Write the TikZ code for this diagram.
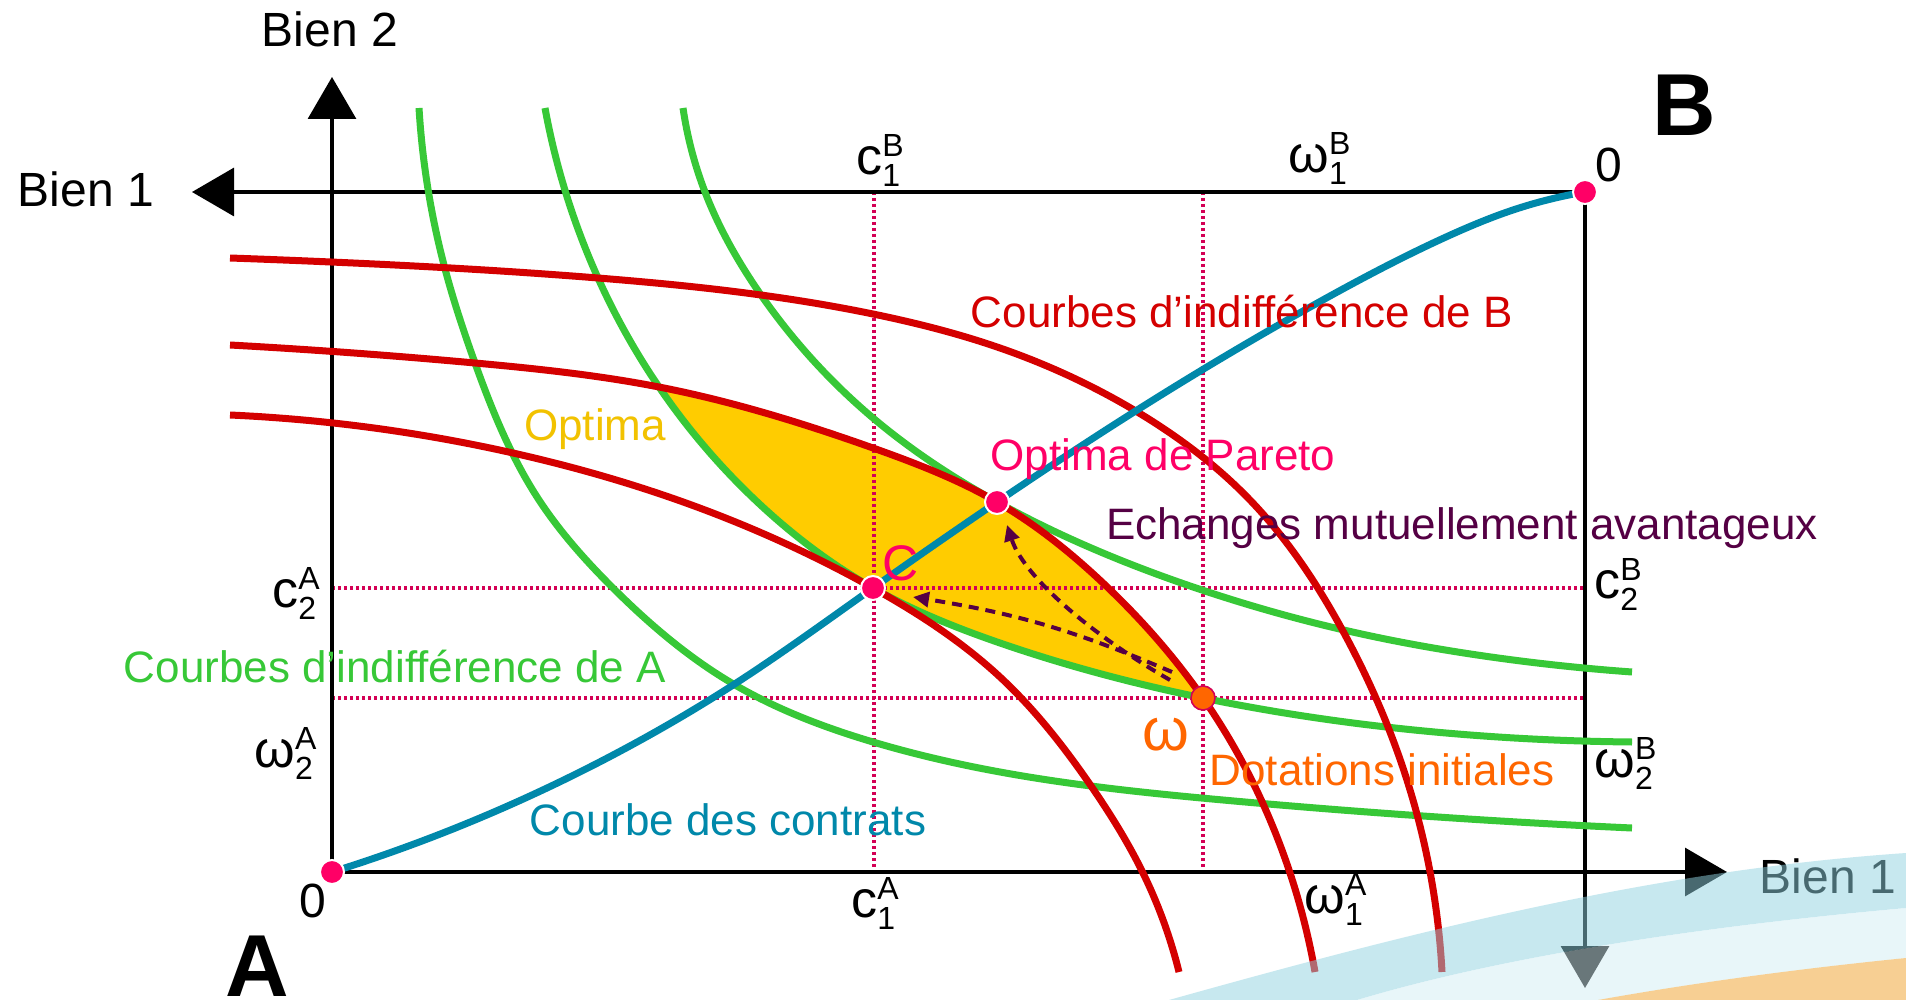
\documentclass[tikz,border=0pt]{standalone}
\usepackage{fontspec}
\setmainfont{Liberation Sans}
\usetikzlibrary{arrows.meta,hobby}
\definecolor{redc}{HTML}{D40000}
\definecolor{greenc}{HTML}{37C837}
\definecolor{bluec}{HTML}{0088AA}
\definecolor{pinkc}{HTML}{FF0066}
\definecolor{dotc}{HTML}{D40055}
\definecolor{yellc}{HTML}{FFCC00}
\definecolor{optc}{HTML}{F2C200}
\definecolor{orc}{HTML}{FF6600}
\definecolor{purc}{HTML}{550044}
\definecolor{bandA}{HTML}{90D3E1}
\definecolor{bandB}{HTML}{D3EEF5}
\definecolor{bandC}{HTML}{F1A129}

\def\Rone{(230,258) .. (331,262) .. (598,278) .. (761,295) .. (873,314) .. (1000,348) .. (1134,410) .. (1250,500) .. (1344,633) .. (1413,800) .. (1442,972)}
\def\Rtwo{(230,345) .. (475,363) .. (659,387) .. (873,448) .. (997,502) .. (1103,583) .. (1203,698) .. (1290,873) .. (1315,972)}
\def\Rthree{(230,415) .. (513,453) .. (705,510) .. (873,588) .. (1000,677) .. (1089,783) .. (1143,873) .. (1179,972)}
\def\Gone{(419,108) .. (444,265) .. (475,363) .. (539,500) .. (613,588) .. (730,682) .. (873,742) .. (1000,772) .. (1223,800) .. (1632,828)}
\def\Gtwo{(545,108) .. (598,278) .. (659,387) .. (766,510) .. (873,588) .. (1000,643) .. (1203,698) .. (1446,733) .. (1632,742)}
\def\Gthree{(683,108) .. (705,192) .. (761,295) .. (873,418) .. (997,502) .. (1196,588) .. (1357,633) .. (1491,657) .. (1632,672)}
\def\Bcc{(332,872) .. (475,820) .. (628,747) .. (730,687) .. (873,588) .. (997,502) .. (1134,412) .. (1312,306) .. (1446,237) .. (1513,210) .. (1585,192)}

\newcommand\smoothcurve[2]{\edef\tmpcurve{\noexpand\draw[use Hobby shortcut,#1] #2;}\tmpcurve}
\newcommand\supsub[3]{#1\rlap{\raisebox{9pt}{\fontsize{16}{16}\selectfont #3}}\raisebox{-6pt}{\fontsize{16}{16}\selectfont #2}}

\begin{document}
\begin{tikzpicture}[x=0.5pt,y=-0.5pt,
  curve/.style={line width=3.5pt},
  axis/.style={line width=1.6pt,black},
  axtip/.style={-{Triangle[length=21pt,width=24pt]}},
  guide/.style={dotc,line width=1.8pt,dash pattern=on 1.6pt off 1.4pt},
  pt/.style={circle,fill=pinkc,draw=white,line width=1pt,minimum size=12pt,inner sep=0pt},
  ptw/.style={circle,fill=orc,draw=dotc,line width=0.8pt,minimum size=12pt,inner sep=0pt},
  dasharr/.style={purc,line width=2pt,dash pattern=on 5pt off 3.5pt,-{Triangle[length=8pt,width=7.5pt]}},
  lbl/.style={inner sep=0pt,font=\fontsize{22}{26}\selectfont},
  axl/.style={inner sep=0pt,anchor=base,font=\fontsize{24}{28}\selectfont},
  sym/.style={inner sep=0pt,anchor=base west,font=\fontsize{26}{30}\selectfont},
  big/.style={inner sep=0pt,anchor=base,font=\fontsize{44}{48}\selectfont\bfseries}]
\fill[white] (0,0) rectangle (1906,1000);
\useasboundingbox (0,0) rectangle (1906,1000);

% lens of mutually advantageous trades
\begin{scope}
\edef\tmpclip{\noexpand\clip[use Hobby shortcut] \Rtwo -- (1315,1000) -- (100,1000) -- (100,300) -- cycle;}\tmpclip
\edef\tmpfill{\noexpand\fill[use Hobby shortcut,yellc] \Gtwo -- (1700,742) -- (1700,50) -- (545,50) -- cycle;}\tmpfill
\end{scope}

% guides
\draw[guide] (874,192) -- (874,872);
\draw[guide] (1203,192) -- (1203,872);
\draw[guide] (332,588) -- (1585,588);
\draw[guide] (332,698) -- (1585,698);

% axes
\coordinate (oA) at (332,872);
\coordinate (oB) at (1585,192);
\coordinate (up) at (332,77);
\coordinate (left) at (192,192);
\coordinate (right) at (1727,872);
\coordinate (down) at (1585,988);
\draw[axis,axtip] (oA) -- (up);
\draw[axis,axtip] (oA) -- (right);
\draw[axis,axtip] (oB) -- (left);
\draw[axis,axtip] (oB) -- (down);

% indifference curves and contract curve
\smoothcurve{greenc,curve}{\Gone}
\smoothcurve{greenc,curve}{\Gtwo}
\smoothcurve{greenc,curve}{\Gthree}
\smoothcurve{redc,curve}{\Rone}
\smoothcurve{redc,curve}{\Rtwo}
\smoothcurve{redc,curve}{\Rthree}
\smoothcurve{bluec,curve}{\Bcc}

% trade arrows
\coordinate (s1) at (1172,672);
\coordinate (e1) at (913,597);
\coordinate (s2) at (1170,680);
\coordinate (e2) at (1007,525);
\draw[dasharr] (s1) to[bend right=7] (e1);
\draw[dasharr] (s2) .. controls (1100,640) and (1025,580) .. (e2);

% points
\node[pt] (dA) at (oA) {};
\node[pt] (dB) at (oB) {};
\node[pt] (dC) at (873,588) {};
\node[pt] (dP) at (997,502) {};
\node[ptw] (dW) at (1203,698) {};

% axis labels
\node[axl] (bien2) at (330,47) {Bien 2};
\node[axl] (bien1l) at (86,207) {Bien 1};
\node[axl] (bien1r) at (1828,893) {Bien 1};
\node[axl] (zA) at (313,917) {0};
\node[axl] (zB) at (1609,182) {0};
\node[big] (bigA) at (257,996) {A};
\node[big] (bigB) at (1684,136) {B};

% coordinate labels
\node[sym] (c1B) at (856,175) {\supsub{c}{1}{B}};
\node[sym] (w1B) at (1288,173) {\supsub{ω}{1}{B}};
\node[sym] (c2A) at (272,607) {\supsub{c}{2}{A}};
\node[sym] (w2A) at (254,767) {\supsub{ω}{2}{A}};
\node[sym] (c1A) at (851,917) {\supsub{c}{1}{A}};
\node[sym] (w1A) at (1304,913) {\supsub{ω}{1}{A}};
\node[sym] (c2B) at (1594,598) {\supsub{c}{2}{B}};
\node[sym] (w2B) at (1594,777) {\supsub{ω}{2}{B}};

% text labels
\node[lbl,anchor=base,text=optc] (optima) at (595,440) {Optima};
\node[lbl,anchor=base,text=redc] (cibB) at (1242,328) {Courbes d'indifférence de B};
\node[lbl,anchor=base,text=pinkc] (pareto) at (1163,470) {Optima de Pareto};
\node[lbl,anchor=base,text=purc] (echg) at (1462,539) {Echanges mutuellement avantageux};
\node[lbl,anchor=base,text=pinkc,font=\fontsize{25}{28}\selectfont] (lC) at (901,580) {C};
\node[lbl,anchor=base,text=greenc] (cibA) at (395,682) {Courbes d'indifférence de A};
\node[lbl,anchor=base,text=orc,font=\fontsize{30}{32}\selectfont] (lw) at (1166,750) {ω};
\node[lbl,anchor=base,text=orc] (dotin) at (1382,785) {Dotations initiales};
\node[lbl,anchor=base,text=bluec] (contr) at (728,835) {Courbe des contrats};

% background band (bottom right)
\fill[bandA,opacity=0.5] (1169,1000) .. controls (1419,930) and (1656,870) .. (1906,853) -- (1906,908) .. controls (1706,926) and (1507,955) .. (1357,1000) -- cycle;
\fill[bandB,opacity=0.5] (1357,1000) .. controls (1507,955) and (1706,926) .. (1906,908) -- (1906,958) .. controls (1806,968) and (1698,982) .. (1598,1000) -- cycle;
\fill[bandC,opacity=0.5] (1598,1000) .. controls (1698,982) and (1806,968) .. (1906,958) -- (1906,1000) -- cycle;
\end{tikzpicture}
\end{document}
